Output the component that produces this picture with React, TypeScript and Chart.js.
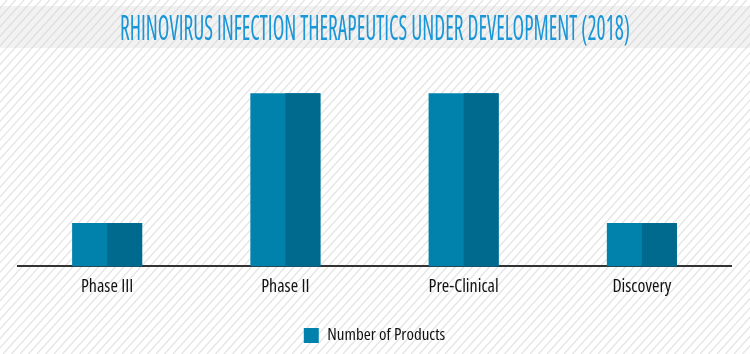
import React, { useEffect, useRef } from "react";
import { Chart, registerables } from "chart.js";

Chart.register(...registerables);

const titleText = "RHINOVIRUS INFECTION THERAPEUTICS UNDER DEVELOPMENT (2018)";
const categories = ["Phase III", "Phase II", "Pre-Clinical", "Discovery"];
const seriesName = "Number of Products";
const productCounts = [1, 4, 4, 1];

const LIGHT = "#0082ad";
const DARK = "#006a8e";
const FONT = "'Open Sans', sans-serif";
// Chart.js inserts "weight" before the size in the font string, which lets us ask for the condensed face
const STRETCH = "condensed";

const backgroundPlugin = {
  id: "stripedBackground",
  beforeDraw(chart: any) {
    const { ctx, width, height } = chart;
    ctx.save();
    ctx.fillStyle = "#ffffff";
    ctx.fillRect(0, 0, width, height);
    ctx.fillStyle = "#f2f2f2";
    ctx.fillRect(0, 6, width, 42);
    ctx.strokeStyle = "rgba(205,205,205,0.55)";
    ctx.lineWidth = 1.3;
    const step = 8.5;
    for (let x0 = -height; x0 < width + height; x0 += step) {
      ctx.beginPath();
      ctx.moveTo(x0, height);
      ctx.lineTo(x0 + height * 0.9, 0);
      ctx.stroke();
    }
    ctx.restore();
  },
  afterDraw(chart: any) {
    const { ctx, width } = chart;
    ctx.save();
    ctx.font = `${STRETCH} 34px ${FONT}`;
    ctx.fillStyle = "#1896d8";
    ctx.textBaseline = "alphabetic";
    const w = ctx.measureText(titleText).width;
    const target = 510;
    const s = target / w;
    ctx.translate(width / 2 - target / 2, 40);
    ctx.scale(s, 1);
    ctx.fillText(titleText, 0, 0);
    ctx.restore();
  },
};

const twoTonePlugin = {
  id: "twoToneBars",
  afterDatasetsDraw(chart: any) {
    const { ctx } = chart;
    const meta = chart.getDatasetMeta(0);
    ctx.save();
    ctx.fillStyle = DARK;
    meta.data.forEach((bar: any) => {
      const { x, y, base, width } = bar.getProps(["x", "y", "base", "width"], true);
      ctx.fillRect(x, y, width / 2, base - y);
    });
    ctx.restore();
  },
};

export default function App() {
  const ref = useRef<HTMLCanvasElement | null>(null);
  useEffect(() => {
    document.body.style.margin = "0";
    if (!ref.current) return;
    const chart = new Chart(ref.current, {
      type: "bar",
      data: {
        labels: categories,
        datasets: [
          {
            label: seriesName,
            data: productCounts,
            backgroundColor: LIGHT,
            borderWidth: 0,
            categoryPercentage: 1,
            barPercentage: 0.393,
          },
        ],
      },
      options: {
        animation: false,
        responsive: false,
        maintainAspectRatio: false,
        layout: { padding: { top: 50, left: 18, right: 19, bottom: 0 } },
        scales: {
          x: {
            grid: { display: false },
            border: { display: true, color: "#333333", width: 2 },
            ticks: {
              color: "#111111",
              font: { family: FONT, size: 18, weight: STRETCH as any },
              padding: 2,
            },
            title: {
              display: true,
              text: " ",
              font: { size: 1, lineHeight: 1 },
              padding: { top: 2, bottom: 4 },
            },
          },
          y: {
            display: false,
            min: 0,
            max: 5,
          },
        },
        plugins: {
          legend: {
            position: "bottom",
            labels: {
              color: "#111111",
              font: { family: FONT, size: 17, weight: STRETCH as any },
              boxWidth: 15,
              boxHeight: 15,
              padding: 20,
            },
          },
          title: { display: false },
          tooltip: { enabled: false },
        },
      },
      plugins: [backgroundPlugin, twoTonePlugin],
    });
    return () => chart.destroy();
  }, []);
  return (
    <div style={{ width: 750, height: 354 }}>
      <canvas ref={ref} width={750} height={354} style={{ display: "block" }} />
    </div>
  );
}
